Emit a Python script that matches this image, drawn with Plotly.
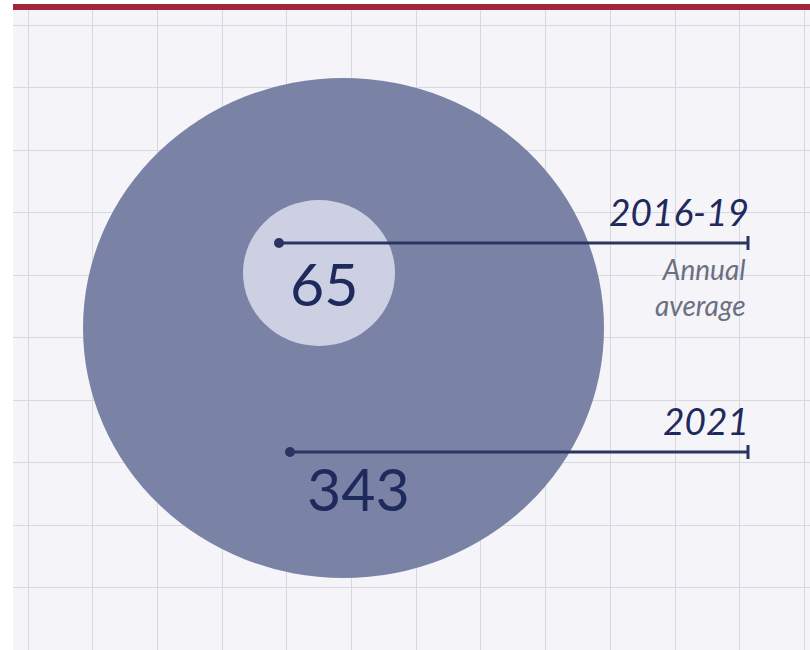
import plotly.graph_objects as go

# ---- data ----
periods = ["2016-19", "2021"]
values = [65, 343]
notes = ["Annual<br>average", ""]

# ---- layout constants (pixel space) ----
W, H = 810, 650
NAVY = "#1f2a5c"
LINE = "#2b3563"
BIG = "#7a83a5"
SMALL = "#cdd0e2"
BG = "#f4f4f9"
GRID = "#d8d8e1"

# circle geometry (centre x, centre y, rx, ry) for each value
circles = [(319, 273, 76, 73), (343.5, 328, 260.5, 250)]
dot_pos = [(279, 243), (290, 452)]
line_end = 748
num_pos = [(324, 283), (358, 488)]

fig = go.Figure()

shapes = []
# background panel
shapes.append(dict(type="rect", xref="x", yref="y", x0=13, x1=W, y0=10, y1=H,
                   fillcolor=BG, line_width=0, layer="below"))
# white margins over the grid
shapes.append(dict(type="rect", xref="x", yref="y", x0=0, x1=13, y0=0, y1=H,
                   fillcolor="white", line_width=0, layer="between"))
shapes.append(dict(type="rect", xref="x", yref="y", x0=0, x1=W, y0=0, y1=10,
                   fillcolor="white", line_width=0, layer="between"))
# red top rule
shapes.append(dict(type="rect", xref="x", yref="y", x0=13, x1=W, y0=4, y1=10,
                   fillcolor="#a0273a", line_width=0, layer="above"))
# circles: largest first
order = sorted(range(len(values)), key=lambda i: -values[i])
colors = {order[0]: BIG, order[-1]: SMALL}
for i in order:
    cx, cy, rx, ry = circles[i]
    shapes.append(dict(type="circle", xref="x", yref="y", x0=cx - rx, x1=cx + rx,
                       y0=cy - ry, y1=cy + ry, fillcolor=colors[i], line_width=0,
                       layer="between"))
# end ticks
for i in range(len(values)):
    _, dy = dot_pos[i]
    shapes.append(dict(type="line", xref="x", yref="y", x0=line_end, x1=line_end,
                       y0=dy - 7, y1=dy + 7, line=dict(color=LINE, width=3)))

# leader lines
for i in range(len(values)):
    dx, dy = dot_pos[i]
    fig.add_trace(go.Scatter(x=[dx, line_end], y=[dy, dy], mode="lines",
                             line=dict(color=LINE, width=3), hoverinfo="skip",
                             showlegend=False))
    fig.add_trace(go.Scatter(x=[dx], y=[dy], mode="markers",
                             marker=dict(color=LINE, size=10), hoverinfo="skip",
                             showlegend=False))

annotations = []
for i in range(len(values)):
    dx, dy = dot_pos[i]
    nx, ny = num_pos[i]
    annotations.append(dict(x=nx, y=ny, xref="x", yref="y", text=str(values[i]),
                            showarrow=False, xanchor="center", yanchor="middle",
                            font=dict(family="Lato", size=59, color=NAVY)))
    annotations.append(dict(x=line_end + 3, y=dy - 7, xref="x", yref="y",
                            text="<i>" + periods[i] + "</i>", showarrow=False,
                            xanchor="right", yanchor="bottom",
                            font=dict(family="Lato", size=37, color=NAVY)))
    if notes[i]:
        annotations.append(dict(x=line_end, y=dy + 7, xref="x", yref="y",
                                text="<i>" + notes[i] + "</i>", showarrow=False,
                                xanchor="right", yanchor="top", align="right",
                                font=dict(family="Lato", size=28, color="#6b6f80")))

fig.update_layout(
    width=W, height=H, margin=dict(l=0, r=0, t=0, b=0),
    paper_bgcolor="white", plot_bgcolor="white",
    shapes=shapes, annotations=annotations,
    xaxis=dict(range=[0, W], showgrid=True, gridcolor=GRID, gridwidth=1,
               tick0=28, dtick=64.7, showticklabels=False, zeroline=False,
               ticks="", fixedrange=True),
    yaxis=dict(range=[H, 0], showgrid=True, gridcolor=GRID, gridwidth=1,
               tick0=25, dtick=62.5, showticklabels=False, zeroline=False,
               ticks="", fixedrange=True),
    showlegend=False,
)

fig.write_html("out.html", config={"displayModeBar": False},
               post_script="document.body.style.margin='0';")
